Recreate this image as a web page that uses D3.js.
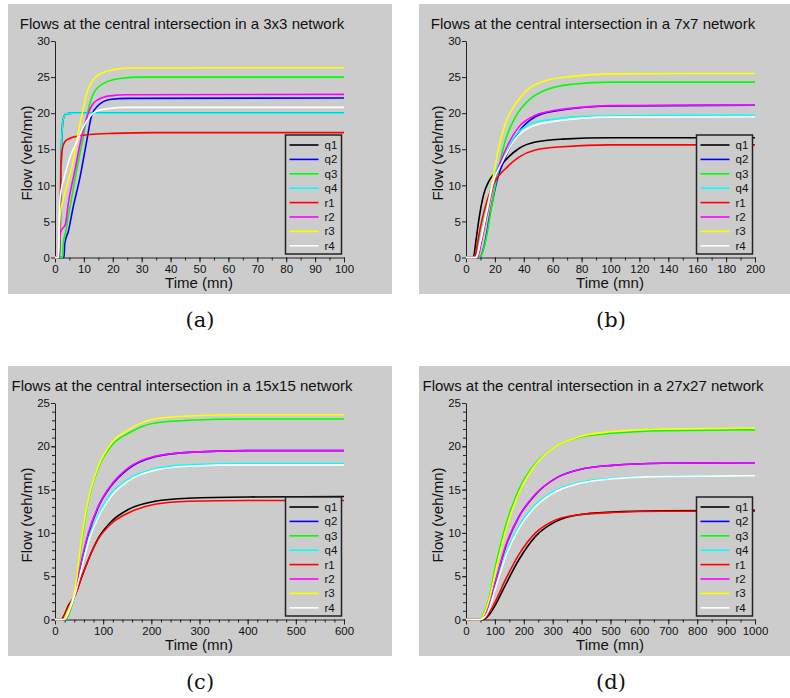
<!DOCTYPE html>
<meta charset="utf-8">
<style>
body { margin: 0; background: #fff; }
svg text { font-family: "Liberation Sans", Arial, sans-serif; fill: #111; }
.caption { font-family: "DejaVu Serif", serif; font-size: 21px; }
.axis path, .axis line { stroke: #222; }
</style>
<svg width="790" height="698"></svg>
<script src="https://d3js.org/d3.v7.min.js"></script>
<script>

var series = ["q1", "q2", "q3", "q4", "r1", "r2", "r3", "r4"];
var colors = ["#000000", "#0000ff", "#00ff00", "#00ffff", "#ff0000", "#ff00ff", "#ffff00", "#ffffff"];

// (a) 3x3 network, time 0-100
var flows3 = {
  q1: [[0,0],[1.6,0],[2,9],[2.3,16],[2.7,18.8],[3.2,19.6],[4,19.9],[6,20],[100,20]],
  q2: [[0,0],[3.1,0],[3.4,2],[4.6,3.6],[6.3,7],[8.7,11.2],[11,16.2],[12.7,19.7],[15,21.1],[19,21.9],[25,22.05],[100,22.1]],
  q3: [[0,0],[2.6,0],[2.9,2],[3.6,3.4],[5.2,7],[7.5,12.1],[9.8,16.7],[11.5,20.4],[13.3,22.7],[16.7,24.1],[22.5,24.8],[30,25],[100,25]],
  q4: [[0,0],[1.6,0],[2,9],[2.3,16],[2.7,18.8],[3.2,19.6],[4,19.9],[6,20],[100,20]],
  r1: [[0,0],[1.5,0],[1.8,7],[2.1,13],[2.6,15.2],[3.5,16.1],[5,16.5],[7.5,16.8],[12,17.05],[20,17.2],[35,17.3],[100,17.3]],
  r2: [[0,0],[1.2,0],[1.6,2.5],[2.1,3.7],[3,4.2],[3.6,4.6],[4.6,7.5],[6.9,12.1],[9.2,16.7],[11.5,20],[13,21.2],[15,21.9],[19,22.4],[25,22.55],[100,22.6]],
  r3: [[0,0],[1.2,0],[1.6,5],[2,6.6],[3,8.2],[4,9.8],[5.8,12.5],[7,15],[8.7,18.6],[10,21],[11,22.8],[12.5,24.2],[14.4,25.1],[17,25.7],[20,26],[26,26.25],[100,26.3]],
  r4: [[0,0],[1.2,0],[1.6,7.5],[2.2,9.5],[3,10.8],[5.2,13.9],[7.5,16],[9.8,18.1],[12,19.5],[14.4,20.3],[18,20.6],[25,20.8],[100,20.8]]
};

// (b) 7x7 network, time 0-200
var flows7 = {
  q1: [[0,0],[5,0],[7,2.5],[8.8,5.1],[12.3,8.8],[15.7,10.5],[20.4,11.85],[27.3,13.5],[36.6,15.1],[48,16],[66.7,16.4],[100,16.6],[200,16.6]],
  q2: [[0,0],[9.5,0],[12.3,1.4],[17,6.5],[21.5,10.7],[27.3,13.9],[36.6,17.4],[48,19.5],[62,20.3],[100,21],[200,21.1]],
  q3: [[0,0],[9,0],[11,0.5],[14.6,3.3],[18,7.45],[22.7,12.5],[27.3,16.25],[34.3,19.5],[43.5,21.8],[55,23.2],[73.6,24],[100,24.3],[200,24.3]],
  q4: [[0,0],[7,0],[10,2.9],[14.6,7.45],[19.2,11.2],[25,13.9],[34.3,16.9],[45.8,18.6],[62,19.2],[73.6,19.45],[100,19.65],[200,19.7]],
  r1: [[0,0],[6,0],[8,2],[10,4.2],[14.6,7.9],[20.4,10.7],[27.3,12.3],[36.6,13.9],[48,14.9],[66.7,15.35],[100,15.6],[200,15.6]],
  r2: [[0,0],[8,0],[11,2.5],[15.7,7],[20.4,11.2],[27.3,14.9],[36.6,18.1],[48,19.7],[62,20.4],[73.6,20.7],[100,21.05],[200,21.1]],
  r3: [[0,0],[7,0],[9,1.2],[11,3.3],[15.7,7.9],[19.2,11.6],[22.7,15.3],[27.3,18.6],[34.3,21.3],[43.5,23.4],[55,24.5],[73.6,25.1],[100,25.45],[200,25.5]],
  r4: [[0,0],[7,0],[10,2.2],[14.6,6.5],[19.2,10.7],[25,13.2],[34.3,16.5],[45.8,18.2],[62,18.9],[100,19.45],[200,19.5]]
};

// (c) 15x15 network, time 0-600
var flows15 = {
  q1: [[0,0],[12,0],[20,0.6],[27.7,1.6],[41.5,2.8],[55.4,4.9],[69.2,6.9],[90,9.4],[117.6,11.35],[152.2,12.7],[207.6,13.65],[276.8,14],[400,14.15],[600,14.2]],
  q2: [[0,0],[22,0],[30,1],[41.5,2.9],[55.4,6.6],[69.2,9.8],[90,13],[117.6,15.5],[152.2,17.4],[207.6,18.8],[276.8,19.3],[400,19.5],[600,19.5]],
  q3: [[0,0],[22,0],[30,0.8],[41.5,3.2],[55.4,9],[69.2,13.7],[90,17.5],[117.6,20.1],[152.2,21.5],[207.6,22.7],[276.8,23],[400,23.15],[600,23.15]],
  q4: [[0,0],[20,0],[30,1.2],[41.5,3],[55.4,6.1],[69.2,9.2],[90,12.1],[117.6,14.6],[152.2,16.2],[207.6,17.4],[276.8,17.85],[400,18],[600,18]],
  r1: [[0,0],[14,0],[20,0.5],[27.7,1.5],[41.5,2.8],[55.4,4.9],[69.2,6.9],[90,9.3],[117.6,11.1],[152.2,12.3],[207.6,13.3],[276.8,13.65],[400,13.75],[600,13.75]],
  r2: [[0,0],[20,0],[30,1.2],[41.5,3.1],[55.4,6.9],[69.2,10],[90,13.1],[117.6,15.6],[152.2,17.5],[207.6,18.85],[276.8,19.3],[400,19.5],[600,19.5]],
  r3: [[0,0],[17,0],[25,0.8],[41.5,3.5],[55.4,9.4],[69.2,13.85],[90,17.7],[117.6,20.4],[152.2,21.9],[207.6,23.15],[276.8,23.5],[400,23.65],[600,23.65]],
  r4: [[0,0],[20,0],[30,1.1],[41.5,2.9],[55.4,5.9],[69.2,8.9],[90,11.8],[117.6,14.3],[152.2,16],[207.6,17.25],[276.8,17.7],[400,17.85],[600,17.85]]
};

// (d) 27x27 network, time 0-1000
var flows27 = {
  q1: [[0,0],[60,0],[78.7,0.5],[101.9,1.7],[136.6,4],[182.9,6.9],[240.7,9.6],[310,11.3],[391,12.1],[507,12.4],[680,12.55],[1000,12.6]],
  q2: [[0,0],[50,0],[66,0.5],[78.7,1.6],[101.9,4.3],[136.6,8.35],[182.9,11.85],[240.7,14.45],[310,16.3],[391,17.3],[507,17.8],[680,18.05],[1000,18.1]],
  q3: [[0,0],[50,0],[60,0.6],[78.7,2.3],[101.9,6.1],[136.6,10.75],[182.9,15],[240.7,18.05],[310,19.97],[391,21.05],[507,21.5],[680,21.8],[1000,21.9]],
  q4: [[0,0],[50,0],[68,0.4],[78.7,1.2],[101.9,3.8],[136.6,7.5],[182.9,10.75],[240.7,13.25],[310,14.9],[391,15.8],[507,16.3],[680,16.5],[1000,16.6]],
  r1: [[0,0],[55,0],[78.7,0.7],[101.9,2.1],[136.6,4.6],[182.9,7.5],[240.7,10],[310,11.5],[391,12.1],[507,12.35],[680,12.5],[1000,12.5]],
  r2: [[0,0],[50,0],[65,0.5],[78.7,1.7],[101.9,4.4],[136.6,8.45],[182.9,11.9],[240.7,14.5],[310,16.3],[391,17.3],[507,17.8],[680,18.05],[1000,18.1]],
  r3: [[0,0],[50,0],[62,0.6],[78.7,2.1],[101.9,5.5],[136.6,10.2],[182.9,14.6],[240.7,17.9],[310,19.97],[391,21.1],[507,21.7],[680,22],[1000,22.1]],
  r4: [[0,0],[50,0],[68,0.4],[78.7,1.1],[101.9,3.6],[136.6,7.2],[182.9,10.5],[240.7,13.05],[310,14.75],[391,15.7],[507,16.25],[680,16.5],[1000,16.6]]
};

var panels = [
  {ox: 0,   oy: 0,   net: "3x3",   xmax: 100,  xStep: 10,  xMinor: 5,  ymax: 30, yMinor: 0, data: flows3,  caption: "(a)"},
  {ox: 411, oy: 0,   net: "7x7",   xmax: 200,  xStep: 20,  xMinor: 10, ymax: 30, yMinor: 0, data: flows7,  caption: "(b)"},
  {ox: 0,   oy: 362, net: "15x15", xmax: 600,  xStep: 100, xMinor: 20, ymax: 25, yMinor: 1, data: flows15, caption: "(c)"},
  {ox: 411, oy: 362, net: "27x27", xmax: 1000, xStep: 100, xMinor: 50, ymax: 25, yMinor: 1, data: flows27, caption: "(d)"}
];

var svg = d3.select("svg");

panels.forEach(drawPanel);

function drawPanel(p) {
  var g = svg.append("g").attr("transform", "translate(" + p.ox + "," + p.oy + ")");

  g.append("rect")
    .attr("x", 8).attr("y", 4).attr("width", 384).attr("height", 290)
    .attr("fill", "#cccccc");

  var x = d3.scaleLinear().domain([0, p.xmax]).range([55, 344]);
  var y = d3.scaleLinear().domain([0, p.ymax]).range([257.5, 41]);

  g.append("text")
    .attr("x", 182).attr("y", 29)
    .attr("text-anchor", "middle")
    .style("font-size", "15px")
    .text("Flows at the central intersection in a " + p.net + " network");

  // minor ticks first
  g.append("g").attr("class", "axis")
    .attr("transform", "translate(0," + y(0) + ")")
    .call(d3.axisBottom(x).tickValues(d3.range(0, p.xmax + 0.001, p.xMinor)).tickSize(3).tickSizeOuter(0).tickFormat(""))
    .select(".domain").remove();
  if (p.yMinor) {
    g.append("g").attr("class", "axis")
      .attr("transform", "translate(" + x(0) + ",0)")
      .call(d3.axisLeft(y).tickValues(d3.range(0, p.ymax + 0.001, p.yMinor)).tickSize(3).tickSizeOuter(0).tickFormat(""))
      .select(".domain").remove();
  }

  var xa = g.append("g").attr("class", "axis")
    .attr("transform", "translate(0," + y(0) + ")")
    .call(d3.axisBottom(x).tickValues(d3.range(0, p.xmax + 0.001, p.xStep))
      .tickFormat(d3.format("d")).tickSize(5).tickSizeOuter(0).tickPadding(2));
  xa.selectAll("text").style("font-size", "11.5px").attr("fill", "#111");

  var ya = g.append("g").attr("class", "axis")
    .attr("transform", "translate(" + x(0) + ",0)")
    .call(d3.axisLeft(y).tickValues(d3.range(0, p.ymax + 0.001, 5)).tickSize(4).tickSizeOuter(0).tickPadding(1));
  ya.selectAll("text").style("font-size", "11.5px").attr("fill", "#111");

  g.append("text")
    .attr("x", 199).attr("y", 287.5)
    .attr("text-anchor", "middle")
    .style("font-size", "15px")
    .text("Time (mn)");

  g.append("text")
    .attr("transform", "translate(32,153) rotate(-90)")
    .attr("text-anchor", "middle")
    .style("font-size", "15px")
    .text("Flow (veh/mn)");

  var line = d3.line()
    .x(function(d) { return x(d[0]); })
    .y(function(d) { return y(d[1]); })
    .curve(d3.curveMonotoneX);

  series.forEach(function(s, i) {
    g.append("path")
      .attr("d", line(p.data[s]))
      .attr("fill", "none")
      .attr("stroke", colors[i])
      .attr("stroke-width", 1.6);
  });

  // legend
  var lg = g.append("g").attr("transform", "translate(285.5,135)");
  lg.append("rect")
    .attr("width", 56).attr("height", 119)
    .attr("fill", "#cccccc")
    .attr("stroke", "#222").attr("stroke-width", 1.5);
  series.forEach(function(s, i) {
    var yy = 10 + i * 14.4;
    lg.append("line")
      .attr("x1", 4).attr("x2", 33).attr("y1", yy).attr("y2", yy)
      .attr("stroke", colors[i]).attr("stroke-width", 1.6);
    lg.append("text")
      .attr("x", 39).attr("y", yy + 4)
      .style("font-size", "11.5px")
      .text(s);
  });

  g.append("text")
    .attr("class", "caption")
    .attr("x", 200).attr("y", 327)
    .attr("text-anchor", "middle")
    .text(p.caption);
}

</script>
